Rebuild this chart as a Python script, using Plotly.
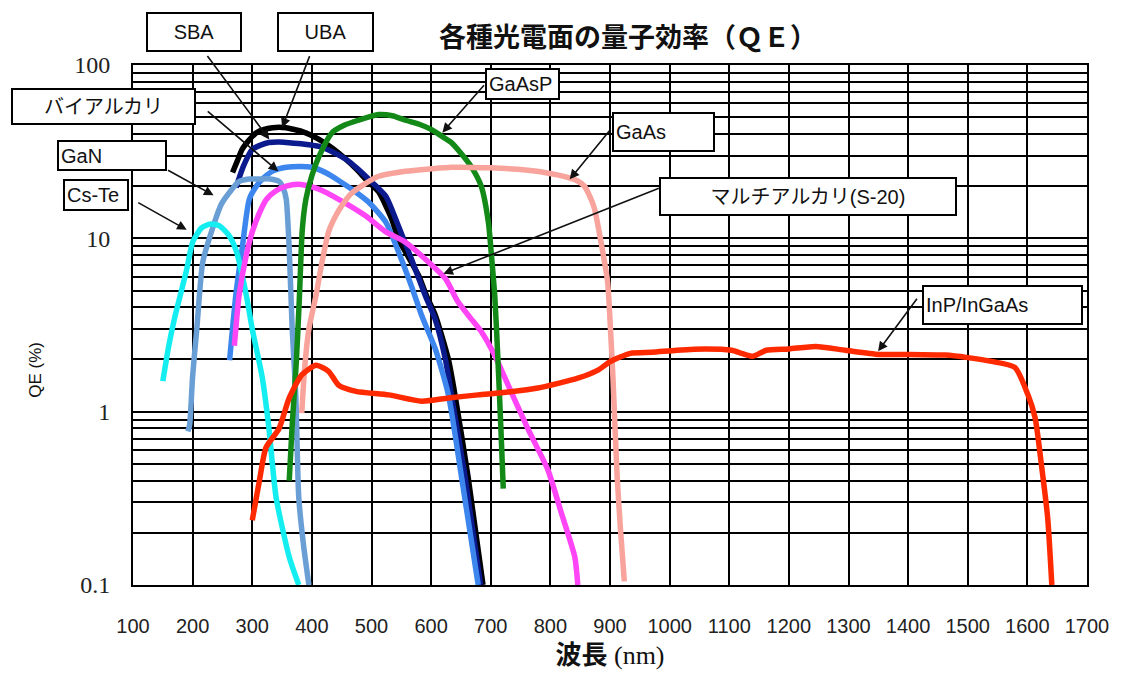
import math
import plotly.graph_objects as go

# Quantum efficiency curves: wavelength (nm) vs QE (%)
cste_wl = [150, 160, 170, 180, 190, 200, 215, 230, 245, 260, 273, 290, 300, 317, 328, 340, 362, 378]
cste_qe = [1.5, 2.4, 3.5, 4.8, 6.6, 9.5, 11.5, 12.1, 11.8, 10.5, 8.5, 4.7, 3.0, 1.56, 0.8, 0.32, 0.145, 0.1]

gan_wl = [192, 195, 200, 207, 217, 233, 248, 265, 278, 295, 312, 330, 345, 352, 357, 362, 367, 373, 378, 386, 395]
gan_qe = [0.77, 0.84, 1.6, 3.0, 7.3, 11.3, 15.7, 19, 21.3, 22, 22, 22, 21.3, 19.5, 16.8, 8.7, 3.0, 1.24, 0.32, 0.17, 0.1]

bialkali_wl = [262, 273, 283, 295, 307, 317, 335, 357, 380, 400, 417, 434, 450, 467, 495, 524, 545, 567, 584, 607, 629, 651, 679]
bialkali_qe = [1.98, 4.9, 8.7, 16.8, 20, 22, 24.5, 25.7, 26, 25.7, 24.5, 22.8, 21, 19.2, 16.2, 12.4, 8.4, 5.3, 3.6, 2.3, 1.25, 0.42, 0.1]

sba_wl = [273, 285, 300, 314, 328, 345, 357, 385, 412, 435, 457, 475, 495, 524, 545, 567, 590, 607, 624, 634, 657, 683]
sba_qe = [19.7, 26, 32.6, 34.5, 35.7, 36, 35.7, 35, 33.9, 31.5, 28.6, 25.5, 22, 17.5, 11.8, 7.6, 4.7, 3.4, 2.0, 1.25, 0.42, 0.1]

uba_wl = [267, 275, 283, 295, 307, 320, 334, 345, 357, 370, 384, 398, 412, 435, 457, 475, 490, 512, 534, 545, 562, 579, 593, 607, 629, 640, 662, 687]
uba_qe = [24, 28, 32.6, 37, 40.7, 42.5, 43.5, 43.8, 43.5, 42.5, 41.3, 39.5, 37.2, 33, 28.6, 25, 22, 18.5, 12.9, 9.9, 7.8, 6.1, 4.6, 3.6, 2.0, 1.25, 0.42, 0.1]

s20_wl = [270, 278, 290, 300, 312, 324, 340, 357, 378, 395, 412, 445, 490, 524, 557, 590, 624, 645, 665, 684, 707, 724, 762, 796, 817, 841, 846]
s20_qe = [2.4, 4.7, 8, 10.9, 14, 16.8, 18.8, 20, 20.5, 20, 19.2, 16.8, 13.5, 10.9, 9.5, 7.6, 5.85, 4.3, 3.5, 2.9, 2.1, 1.56, 0.8, 0.46, 0.27, 0.145, 0.1]

gaasp_wl = [362, 367, 374, 379, 384, 390, 400, 412, 434, 455, 478, 512, 535, 557, 580, 600, 617, 634, 650, 667, 684, 696, 701, 707, 712, 717, 721]
gaasp_qe = [0.4, 0.84, 1.96, 4.5, 11.3, 16.8, 23, 29.7, 40.7, 45, 48, 51.8, 51, 48, 45.5, 42.5, 39, 35.7, 31, 26, 20, 12.4, 8.1, 4.5, 2.0, 0.8, 0.36]

gaas_wl = [383, 388, 395, 407, 417, 428, 440, 450, 465, 483, 512, 557, 600, 634, 700, 745, 790, 829, 845, 857, 866, 874, 884, 896, 901, 905, 912, 918, 924]
gaas_qe = [0.98, 1.8, 3.0, 4.7, 7.3, 10.9, 13.5, 15.4, 18, 20, 22.8, 24.4, 25.2, 25.7, 25.5, 25, 24, 22.5, 21.5, 20, 17.5, 14.8, 9.9, 5.6, 2.9, 1.56, 0.42, 0.2, 0.105]

inp_wl = [300, 312, 323, 345, 362, 383, 407, 428, 445, 474, 529, 584, 629, 679, 730, 779, 846, 879, 901, 934, 970, 1012, 1060, 1104, 1121, 1140, 1162, 1200, 1245, 1295, 1351, 1400, 1462, 1500, 1540, 1579, 1601, 1613, 1624, 1634, 1641]
inp_qe = [0.236, 0.40, 0.62, 0.80, 1.2, 1.63, 1.85, 1.71, 1.42, 1.31, 1.25, 1.15, 1.2, 1.25, 1.3, 1.37, 1.56, 1.73, 1.95, 2.17, 2.2, 2.26, 2.3, 2.26, 2.17, 2.09, 2.26, 2.3, 2.38, 2.26, 2.14, 2.14, 2.12, 2.05, 1.95, 1.80, 1.25, 0.92, 0.48, 0.245, 0.1]

x_ticks = list(range(100, 1800, 100))
y_decades = [0.1, 1, 10, 100]
y_tick_text = ["0.1", "1", "10", "100"]

W, H = 1121, 677
ML, MR, MT, MB = 133, 29, 65, 89
PW, PH = W - ML - MR, H - MT - MB

series = [
    ("UBA", uba_wl, uba_qe, "#000000"),
    ("SBA", sba_wl, sba_qe, "#0b1a8c"),
    ("バイアルカリ", bialkali_wl, bialkali_qe, "#3d86ee"),
    ("GaN", gan_wl, gan_qe, "#6a9fd6"),
    ("Cs-Te", cste_wl, cste_qe, "#14eef0"),
    ("マルチアルカリ(S-20)", s20_wl, s20_qe, "#ff45f5"),
    ("GaAsP", gaasp_wl, gaasp_qe, "#138a17"),
    ("GaAs", gaas_wl, gaas_qe, "#f8a39b"),
    ("InP/InGaAs", inp_wl, inp_qe, "#ff2a00"),
]

fig = go.Figure()
for name, wl, qe, color in series:
    fig.add_trace(go.Scatter(
        x=wl, y=qe, mode="lines", name=name, showlegend=False,
        line=dict(color=color, width=5.5, shape="spline", smoothing=0.6),
    ))

# grid lines at every 1..9 step of each decade
y_grid = []
for d in y_decades[:-1]:
    y_grid += [d * k for k in range(1, 10)]
y_grid.append(y_decades[-1])
y_grid_text = [y_tick_text[y_decades.index(v)] if v in y_decades else "" for v in y_grid]


def px_x(px):
    return (px - ML) / PW


def px_y(py):
    return (H - MB - py) / PH


annotations = []

# label boxes: text, left, top, right, bottom (pixels), alignment
boxes = [
    ("SBA", 146, 12, 242, 52, "center"),
    ("UBA", 278, 12, 375, 52, "center"),
    ("バイアルカリ", 10, 88, 195, 125, "center"),
    ("GaN", 57, 140, 167, 171, "left"),
    ("Cs-Te", 63, 180, 129, 212, "left"),
    ("GaAsP", 487, 68, 562, 100, "left"),
    ("GaAs", 615, 112, 718, 152, "left"),
    ("マルチアルカリ(S-20)", 662, 178, 960, 217, "center"),
    ("InP/InGaAs", 926, 286, 1087, 326, "left"),
]
for text, l, t, r, b, al in boxes:
    annotations.append(dict(
        text=text, xref="paper", yref="paper", x=px_x(l), y=px_y(t),
        xanchor="left", yanchor="top", showarrow=False, align=al,
        width=r - l - 8, height=b - t - 8, borderpad=2, borderwidth=2,
        bordercolor="#000", bgcolor="#fff",
        font=dict(family="Liberation Sans, Noto Sans CJK JP", size=20, color="#111"),
    ))

# pointer arrows: head (nm, QE), tail offset in pixels
arrows = [
    (328.6, 37.2, -63, -85),
    (350.2, 43.5, 28, -73),
    (343.6, 24.4, -72, -61),
    (235.1, 17.7, -47, -26),
    (190.1, 11.2, -50, -28),
    (618.8, 40.7, 43, -49),
    (832.4, 21.9, 41, -50),
    (620.5, 6.25, 217, -86),
    (1349.6, 2.23, 40, -54),
]
for hx, hy, ax, ay in arrows:
    annotations.append(dict(
        text="", x=hx, y=math.log10(hy), xref="x", yref="y",
        ax=ax, ay=ay, showarrow=True, arrowhead=2, arrowsize=1.2,
        arrowwidth=1.6, arrowcolor="#111",
    ))

# y-axis title
annotations.append(dict(
    text="QE (%)", xref="paper", yref="paper", x=px_x(35), y=px_y(372),
    xanchor="center", yanchor="middle", textangle=-90, showarrow=False,
    font=dict(family="Liberation Sans, Arial", size=17, color="#111"),
))

fig.update_layout(
    width=W, height=H,
    margin=dict(l=ML, r=MR, t=MT, b=MB),
    paper_bgcolor="#fff", plot_bgcolor="#fff",
    title=dict(
        text="各種光電面の量子効率（ＱＥ）", x=628 / W, xanchor="center",
        y=1 - 38 / H, yanchor="middle",
        font=dict(family="Noto Sans CJK JP", size=27, color="#111", weight="bold"),
    ),
    xaxis=dict(
        range=[100, 1700], tickvals=x_ticks, ticks="",
        showgrid=True, gridcolor="#000", gridwidth=2,
        showline=True, mirror=True, linecolor="#000", linewidth=2,
        zeroline=False, ticklabelstandoff=22,
        tickfont=dict(family="Liberation Sans, Arial", size=20, color="#222"),
        title=dict(text="<b>波長</b> (nm)", standoff=10,
                   font=dict(family="Liberation Serif, Noto Sans CJK JP", size=26, color="#111")),
    ),
    yaxis=dict(
        type="log", range=[-1, 2], tickvals=y_grid, ticktext=y_grid_text, ticks="",
        showgrid=True, gridcolor="#000", gridwidth=2,
        showline=True, mirror=True, linecolor="#000", linewidth=2,
        zeroline=False, ticklabelstandoff=16,
        tickfont=dict(family="Liberation Serif, Times New Roman", size=24, color="#222"),
    ),
    annotations=annotations,
)

fig.write_html("out.html")
